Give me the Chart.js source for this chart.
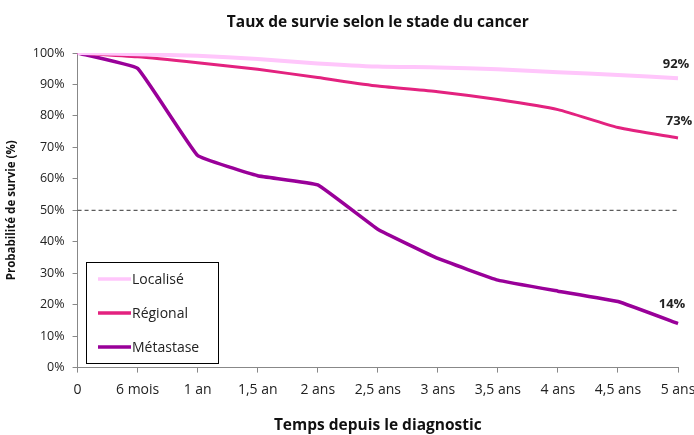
<!DOCTYPE html>
<html>
<head>
<meta charset="utf-8">
<script src="https://cdn.jsdelivr.net/npm/chart.js@4/dist/chart.umd.min.js"></script>
<style>
  body { margin: 0; background: #fff; }
  #wrap { width: 694px; height: 435px; }
</style>
</head>
<body>
<div id="wrap"><canvas id="lineChart"></canvas></div>
<script>
const periods = ['0', '6 mois', '1 an', '1,5 an', '2 ans', '2,5 ans', '3 ans', '3,5 ans', '4 ans', '4,5 ans', '5 ans'];
const localise = [100, 99.6, 99.1, 98.1, 96.7, 95.7, 95.4, 94.8, 93.9, 93, 92];
const regional = [100, 98.8, 96.9, 94.8, 92.2, 89.5, 87.7, 85.2, 82, 76.3, 73];
const metastase = [100, 95.1, 67.4, 61, 58.1, 44, 34.7, 27.8, 24.3, 21, 14];
const medianLine = [50, 50, 50, 50, 50, 50, 50, 50, 50, 50, 50];

const seriesNames = ['Localisé', 'Régional', 'Métastase'];
const seriesColors = ['#ffc6fb', '#e3227f', '#990099'];
const chartTitle = 'Taux de survie selon le stade du cancer';
const fontFamily = '"Open Sans", sans-serif';

const ctx = document.getElementById('lineChart');

// title (centred on plot area), end labels + legend drawn on canvas
const extras = {
  id: 'extras',
  afterDatasetsDraw(chart) {
    const c = chart.ctx;
    const area = chart.chartArea;
    c.save();
    c.font = 'bold 15.5px ' + fontFamily;
    c.fillStyle = '#111';
    c.textAlign = 'center';
    c.textBaseline = 'middle';
    c.fillText(chartTitle, (area.left + area.right) / 2, 23);

    c.font = 'bold 13px ' + fontFamily;
    c.fillStyle = '#222';
    c.textBaseline = 'alphabetic';
    const offs = [[-2, -10], [1, -13], [-6, -16]];
    for (let i = 0; i < 3; i++) {
      const meta = chart.getDatasetMeta(i);
      const p = meta.data[meta.data.length - 1];
      const v = chart.data.datasets[i].data[meta.data.length - 1];
      c.fillText(Math.round(v) + '%', p.x + offs[i][0], p.y + offs[i][1]);
    }

    // legend box
    const bx = 86, by = 262, bw = 132, bh = 101;
    c.fillStyle = '#fff';
    c.fillRect(bx, by, bw, bh);
    c.strokeStyle = '#000';
    c.lineWidth = 1;
    c.strokeRect(bx + 0.5, by + 0.5, bw, bh);
    c.font = '14px ' + fontFamily;
    c.textAlign = 'left';
    c.textBaseline = 'middle';
    for (let i = 0; i < 3; i++) {
      const y = by + 17 + i * 34;
      c.strokeStyle = seriesColors[i];
      c.lineWidth = 3.5;
      c.beginPath();
      c.moveTo(bx + 12, y);
      c.lineTo(bx + 45, y);
      c.stroke();
      c.fillStyle = '#222';
      c.fillText(seriesNames[i], bx + 46, y + 1);
    }
    c.restore();
  }
};

new Chart(ctx, {
  type: 'line',
  data: {
    labels: periods,
    datasets: [
      { label: seriesNames[0], data: localise, borderColor: seriesColors[0], borderWidth: 4, pointRadius: 0, tension: 0.2 },
      { label: seriesNames[1], data: regional, borderColor: seriesColors[1], borderWidth: 3, pointRadius: 0, tension: 0.2 },
      { label: seriesNames[2], data: metastase, borderColor: seriesColors[2], borderWidth: 3.5, pointRadius: 0, tension: 0.08 },
      { label: '50%', data: medianLine, borderColor: '#333', borderWidth: 1, borderDash: [4, 3], pointRadius: 0, tension: 0 }
    ]
  },
  options: {
    responsive: true,
    maintainAspectRatio: false,
    animation: false,
    layout: { padding: { left: 5, right: 16, top: 53, bottom: 0 } },
    plugins: {
      legend: { display: false },
      tooltip: { enabled: false },
      title: { display: false }
    },
    scales: {
      x: {
        offset: false,
        afterFit: function(scale) {
          // let the last tick label run into the right margin
          scale.paddingRight = 0;
          scale.paddingLeft = 0;
        },
        grid: { drawOnChartArea: false, drawTicks: true, tickLength: 5, color: '#888' },
        border: { color: '#888' },
        ticks: { color: '#222', font: { family: fontFamily, size: 14 }, maxRotation: 0, autoSkip: false, padding: 9 },
        title: {
          display: true,
          text: 'Temps depuis le diagnostic',
          color: '#111',
          font: { family: fontFamily, size: 15.5, weight: 'bold' },
          padding: { top: 9, bottom: 0 }
        }
      },
      y: {
        min: 0,
        max: 100,
        afterFit: function(scale) {
          scale.paddingTop = 0;
        },
        grid: { drawOnChartArea: false, drawTicks: true, tickLength: 5, color: '#888' },
        border: { color: '#888' },
        ticks: { stepSize: 10, color: '#222', font: { family: fontFamily, size: 12.5 }, padding: 8, callback: v => v + '%' },
        title: {
          display: true,
          text: 'Probabilité de survie (%)',
          color: '#111',
          font: { family: fontFamily, size: 11.5, weight: 'bold' },
          padding: { top: 0, bottom: 6 }
        }
      }
    }
  },
  plugins: [extras]
});
</script>
</body>
</html>
